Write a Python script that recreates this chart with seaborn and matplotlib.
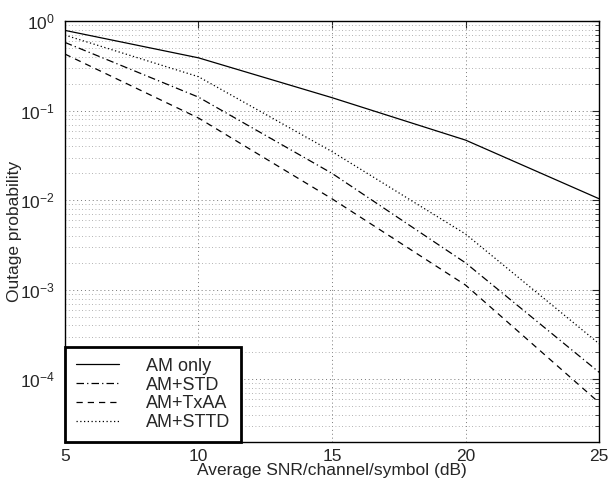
import numpy as np
import pandas as pd
import matplotlib
matplotlib.use("Agg")
import matplotlib.pyplot as plt
import seaborn as sns
from matplotlib.ticker import LogLocator, NullFormatter, FixedLocator

snr = [5, 10, 15, 20, 25]
am_only = [0.79, 0.39, 0.14, 0.047, 0.0104]
am_std = [0.58, 0.142, 0.020, 0.0020, 0.000120]
am_txaa = [0.43, 0.083, 0.0104, 0.00113, 0.000055]
am_sttd = [0.70, 0.24, 0.035, 0.0042, 0.00025]
labels = ["AM only", "AM+STD", "AM+TxAA", "AM+STTD"]

df = pd.DataFrame({
    "snr": snr * 4,
    "p": am_only + am_std + am_txaa + am_sttd,
    "series": sum([[l] * len(snr) for l in labels], []),
})

sns.set_style("white")
plt.rcParams["font.family"] = ["Liberation Sans", "DejaVu Sans"]
plt.rcParams["mathtext.fontset"] = "custom"
plt.rcParams["mathtext.rm"] = "Liberation Sans"
plt.rcParams["mathtext.it"] = "Liberation Sans:italic"
plt.rcParams["mathtext.bf"] = "Liberation Sans:bold"
plt.rcParams["font.size"] = 12

fig = plt.figure(figsize=(6.12, 4.82), dpi=100)
ax = fig.add_axes([0.106, 0.083, 0.873, 0.873])

dashes = {"AM only": "", "AM+STD": (6, 2.5, 1, 2.5), "AM+TxAA": (5, 4), "AM+STTD": (1, 2)}
sns.lineplot(data=df, x="snr", y="p", hue="series", style="series",
             hue_order=labels, style_order=labels,
             palette=["black"] * 4, dashes=dashes, linewidth=0.9,
             ax=ax, legend=True)

ax.set_yscale("log")
ax.set_xlim(5, 25)
ax.set_ylim(2e-5, 1)
ax.xaxis.set_major_locator(FixedLocator([5, 10, 15, 20, 25]))
ax.yaxis.set_major_locator(LogLocator(base=10, numticks=10))
ax.yaxis.set_minor_locator(LogLocator(base=10, subs=np.arange(2, 10), numticks=20))
ax.yaxis.set_minor_formatter(NullFormatter())

ax.grid(True, which="major", axis="both", linestyle=(0, (1, 3)), color="#777777", linewidth=0.7)
ax.grid(True, which="minor", axis="y", linestyle=(0, (1, 3)), color="#999999", linewidth=0.6)

ax.tick_params(which="both", direction="in", top=True, right=True, labelsize=12.5)
ax.tick_params(axis="x", which="major", pad=5)
ax.tick_params(axis="y", which="major", pad=7)
ax.tick_params(which="major", length=5)
ax.tick_params(which="minor", length=3)
for s in ax.spines.values():
    s.set_color("black")
    s.set_linewidth(1.0)

ax.set_xlabel("Average SNR/channel/symbol (dB)", fontsize=12.5)
ax.set_ylabel("Outage probability", fontsize=12.5)
ax.xaxis.set_label_coords(0.5, -0.05)
ax.yaxis.set_label_coords(-0.08, 0.5)

handles, lbls = ax.get_legend_handles_labels()
leg = ax.legend(handles, lbls, loc="lower left", borderaxespad=0, fontsize=13,
                handlelength=2.4, handletextpad=1.5, labelspacing=0.1,
                fancybox=False, framealpha=1, edgecolor="black",
                borderpad=0.6)
leg.get_frame().set_linewidth(2)

fig.savefig("out.png", dpi=100)
